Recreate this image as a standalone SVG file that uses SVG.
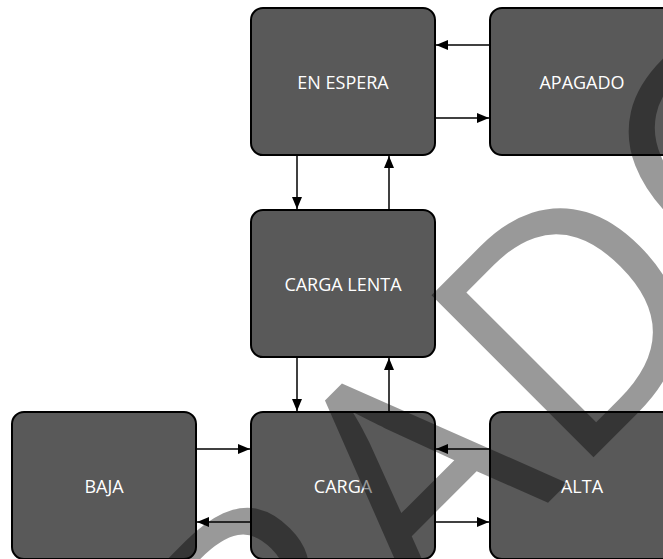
<svg xmlns="http://www.w3.org/2000/svg" width="663" height="559" viewBox="0 0 663 559">
<style>
.node rect{fill:#595959;stroke:#000;stroke-width:2}
.node text{fill:#fff;font-family:"Open Sans","Noto Sans",sans-serif;font-size:18px;text-anchor:middle}
.conn line{stroke:#000;stroke-width:1.5;marker-end:url(#ah)}
.wm{font-family:"Open Sans","Noto Sans",sans-serif;font-size:321px;fill:#000;fill-opacity:0.4}
</style>
<defs>
<marker id="ah" viewBox="0 0 12 10" refX="12" refY="5" markerWidth="12" markerHeight="10" markerUnits="userSpaceOnUse" orient="auto">
<path d="M0,0 L12,5 L0,10 Z" fill="#000"/>
</marker>
</defs>
<rect width="663" height="559" fill="#fff"/>
<g id="en-espera" class="node"><rect x="251" y="8" width="184" height="147" rx="12"/><text x="343" y="89">EN ESPERA</text></g>
<g id="apagado" class="node"><rect x="490" y="8" width="184" height="147" rx="12"/><text x="582" y="89">APAGADO</text></g>
<g id="carga-lenta" class="node"><rect x="251" y="210" width="184" height="147" rx="12"/><text x="343" y="291">CARGA LENTA</text></g>
<g id="baja" class="node"><rect x="12" y="412" width="184" height="147" rx="12"/><text x="104" y="493">BAJA</text></g>
<g id="carga" class="node"><rect x="251" y="412" width="184" height="147" rx="12"/><text x="343" y="493">CARGA</text></g>
<g id="alta" class="node"><rect x="490" y="412" width="184" height="147" rx="12"/><text x="582" y="493">ALTA</text></g>
<g id="connectors" class="conn">
<line x1="490" y1="45" x2="436" y2="45"/>
<line x1="435" y1="118" x2="489" y2="118"/>
<line x1="297" y1="155" x2="297" y2="209"/>
<line x1="389" y1="210" x2="389" y2="156"/>
<line x1="297" y1="357" x2="297" y2="411"/>
<line x1="389" y1="412" x2="389" y2="358"/>
<line x1="196" y1="449" x2="250" y2="449"/>
<line x1="251" y1="522" x2="197" y2="522"/>
<line x1="490" y1="449" x2="436" y2="449"/>
<line x1="435" y1="522" x2="489" y2="522"/>
</g>
<g id="watermark" transform="rotate(-45)">
<text class="wm" x="-1005 -797 -547 -345 -143 65 301 551" y="743">BORRADOR</text>
</g>
</svg>
